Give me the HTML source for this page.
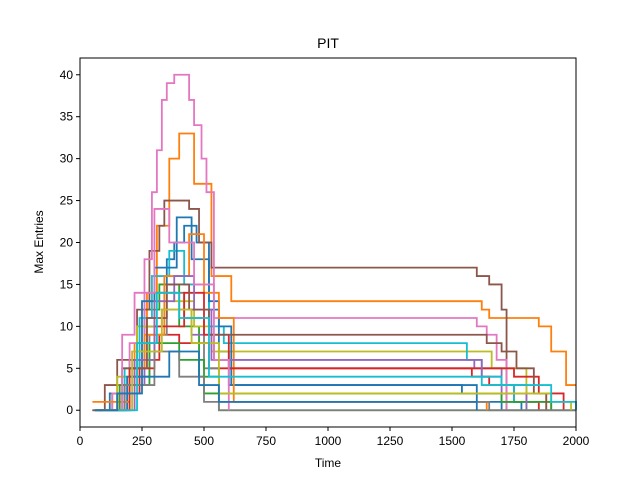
<!DOCTYPE html>
<html><head><meta charset="utf-8"><style>
body{margin:0;background:#fff;}
svg text{font-family:"Liberation Sans","DejaVu Sans",sans-serif;fill:#000;}
</style></head><body>
<svg id="chart" width="640" height="480" viewBox="0 0 640 480" xmlns="http://www.w3.org/2000/svg">
<rect width="640" height="480" fill="#fff"/>
<text x="328" y="48" font-size="14" text-anchor="middle">PIT</text>
<text x="328" y="467" font-size="12" text-anchor="middle">Time</text>
<text x="0" y="0" font-size="12" text-anchor="middle" transform="translate(43,242) rotate(-90)">Max Entries</text>
<g id="plot"></g>
<g id="axes"></g>
</svg>
<script>
const xTicks=[0,250,500,750,1000,1250,1500,1750,2000];
const yTicks=[0,5,10,15,20,25,30,35,40];
const colors=["#1f77b4","#ff7f0e","#2ca02c","#d62728","#9467bd","#8c564b","#e377c2","#7f7f7f","#bcbd22","#17becf"];
const s0=[[50,0],[120,2],[200,5],[260,10],[300,14],[350,18],[380,20],[420,22],[470,20],[520,12],[560,7],[600,3],[1540,2],[1600,1],[1700,0]];
const s1=[[60,0],[150,3],[220,8],[270,14],[310,22],[360,30],[400,33],[460,27],[530,16],[610,13],[1620,12],[1650,11],[1850,10],[1900,7],[1960,3],[2000,3]];
const s2=[[70,0],[130,2],[200,6],[260,12],[320,15],[400,10],[480,4],[560,0],[2000,0]];
const s3=[[60,0],[160,2],[240,6],[320,9],[400,8],[520,5],[1580,4],[1650,3],[1750,1],[1850,0]];
const s4=[[80,0],[180,3],[260,10],[330,12],[450,9],[540,6],[1590,5],[1700,3],[1800,1],[1900,0]];
const s5=[[50,0],[100,3],[150,6],[230,12],[280,19],[320,22],[340,25],[440,24],[480,20],[530,17],[1570,17],[1600,16],[1650,15],[1700,12],[1720,0]];
const s6=[[90,0],[130,2],[200,8],[260,18],[290,26],[310,31],[330,37],[350,39],[380,40],[440,37],[460,34],[490,30],[510,26],[540,11],[1570,11],[1600,10],[1640,9],[1680,6],[1720,0]];
const s7=[[100,0],[200,4],[280,9],[350,14],[420,11],[500,5],[560,0],[2000,0]];
const s8=[[70,0],[150,4],[230,10],[300,14],[380,13],[460,10],[530,7],[1600,7],[1660,5],[1800,2],[1880,0]];
const s9=[[90,0],[180,5],[240,11],[290,16],[360,19],[420,15],[520,10],[580,8],[1540,8],[1560,6],[1620,3],[1750,1],[1800,0]];
const s10=[[110,0],[190,4],[250,13],[300,17],[390,23],[450,18],[520,13],[560,10],[610,3],[1560,3],[1600,2],[1700,1],[1780,0]];
const s11=[[50,1],[140,1],[200,5],[260,9],[340,16],[440,21],[500,14],[560,11],[620,1],[1600,1],[1640,0]];
const s12=[[60,0],[160,3],[280,8],[400,6],[500,2],[1650,2],[1700,1],[1900,0]];
const s13=[[80,0],[200,5],[300,10],[420,14],[500,9],[600,5],[1600,5],[1750,4],[1850,2],[1950,0]];
const s14=[[120,0],[220,6],[300,13],[380,16],[460,12],[530,6],[1560,6],[1620,4],[1700,2],[1800,0]];
const s15=[[70,0],[170,5],[270,11],[350,15],[440,12],[520,9],[1560,9],[1640,8],[1700,7],[1760,5],[1830,2],[1880,0]];
const s16=[[130,0],[170,9],[220,14],[300,24],[360,20],[460,15],[540,6],[600,0]];
const s17=[[60,0],[180,3],[300,7],[400,4],[500,1],[1600,1],[1650,0],[2000,0]];
const s18=[[90,0],[210,7],[330,12],[450,8],[560,2],[1700,2],[1900,1],[1980,0]];
const s19=[[100,0],[230,8],[310,14],[400,11],[520,4],[1580,4],[1700,3],[1900,1],[2000,0]];
const s20=[[60,0],[150,2],[250,4],[360,7],[480,3],[560,1],[1540,1],[1600,0]];
const seriesList=[s0,s1,s2,s3,s4,s5,s6,s7,s8,s9,s10,s11,s12,s13,s14,s15,s16,s17,s18,s19,s20];
const L=80,R=576,T=58,B=427;
const xMin=0,xMax=2000,yMin=-2,yMax=42;
function X(t){return L+(t-xMin)/(xMax-xMin)*(R-L);}
function Y(v){return B-(v-yMin)/(yMax-yMin)*(B-T);}
const NS="http://www.w3.org/2000/svg";
const plot=document.getElementById('plot');
const axes=document.getElementById('axes');
seriesList.forEach((s,i)=>{
  let d="M"+X(s[0][0])+","+Y(s[0][1]);
  for(let k=1;k<s.length;k++){d+=" H"+X(s[k][0])+" V"+Y(s[k][1]);}
  const p=document.createElementNS(NS,'path');
  p.setAttribute('d',d);p.setAttribute('fill','none');
  p.setAttribute('stroke',colors[i%10]);p.setAttribute('stroke-width','1.8');
  
  
  plot.appendChild(p);
});
const frame=document.createElementNS(NS,'rect');
frame.setAttribute('x',L);frame.setAttribute('y',T);frame.setAttribute('width',R-L);frame.setAttribute('height',B-T);
frame.setAttribute('fill','none');frame.setAttribute('stroke','#000');frame.setAttribute('stroke-width','1');


axes.appendChild(frame);
xTicks.forEach(t=>{
  const l=document.createElementNS(NS,'line');
  l.setAttribute('x1',X(t));l.setAttribute('x2',X(t));l.setAttribute('y1',B);l.setAttribute('y2',B+4);l.setAttribute('stroke','#000');
  
  
  axes.appendChild(l);
  const tx=document.createElementNS(NS,'text');
  tx.setAttribute('x',X(t));tx.setAttribute('y',B+18);tx.setAttribute('font-size','12');tx.setAttribute('text-anchor','middle');
  tx.textContent=t;
  
  
  axes.appendChild(tx);
});
yTicks.forEach(v=>{
  const l=document.createElementNS(NS,'line');
  l.setAttribute('x1',L-4);l.setAttribute('x2',L);l.setAttribute('y1',Y(v));l.setAttribute('y2',Y(v));l.setAttribute('stroke','#000');
  
  
  axes.appendChild(l);
  const tx=document.createElementNS(NS,'text');
  tx.setAttribute('x',L-7);tx.setAttribute('y',Y(v)+4);tx.setAttribute('font-size','12');tx.setAttribute('text-anchor','end');
  tx.textContent=v;
  
  
  axes.appendChild(tx);
});
</script>
</body></html>
